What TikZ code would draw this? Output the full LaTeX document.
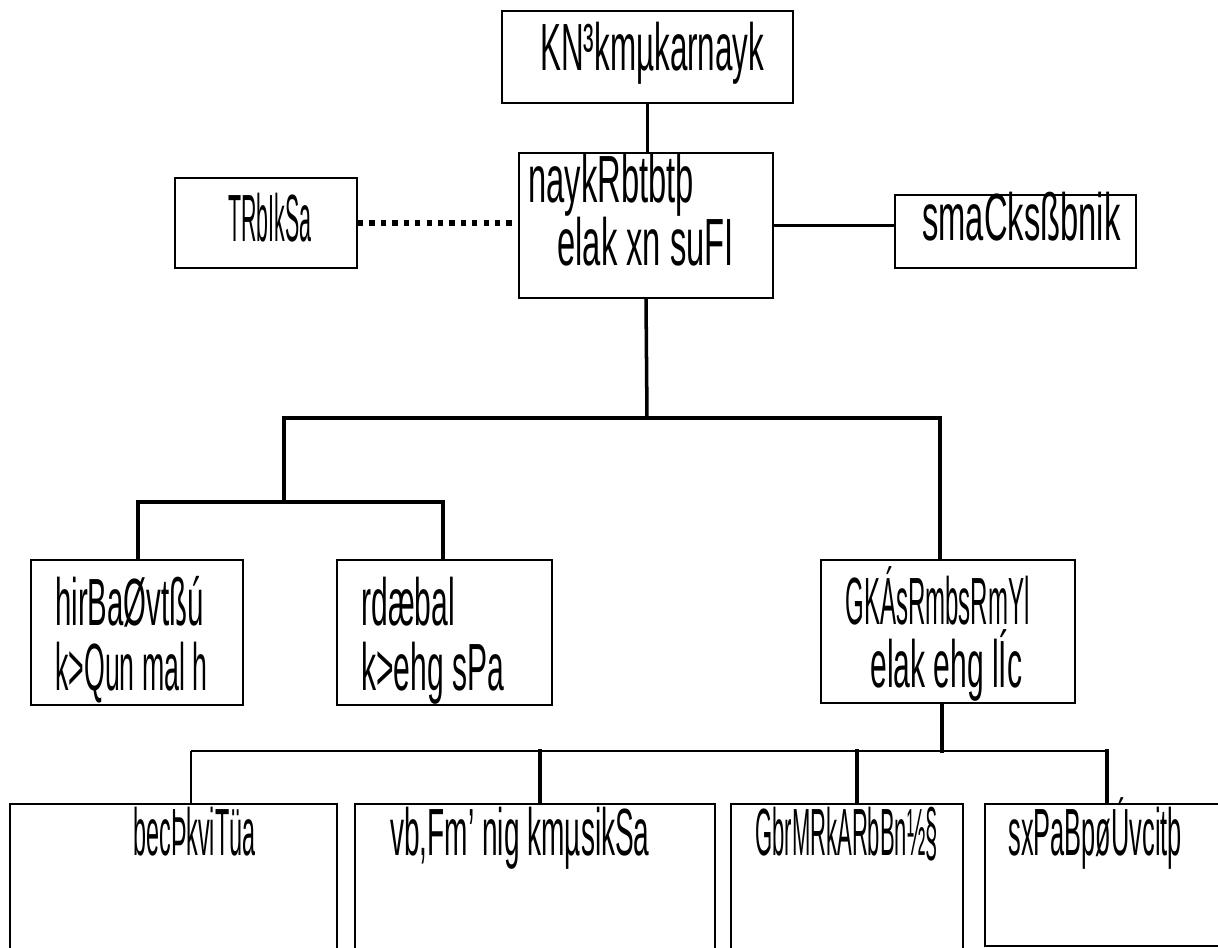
\documentclass[tikz,border=0pt]{standalone}
\usepackage{fontspec}
\setmainfont{Liberation Sans}
\newcommand\tfont[1]{\fontsize{38}{44}\selectfont\addfontfeature{FakeStretch=#1}}
\tikzset{every node/.style={rectangle,draw=none,inner sep=0pt}}
\tikzset{box/.style 2 args={draw,line width=1.1pt,minimum width=#1*0.2mm,minimum height=#2*0.2mm}}
\tikzset{t/.style={anchor=base west,font=\tfont{#1}},t/.default=0.47}
\tikzset{bar/.style={line width=2pt,line cap=rect}}
\tikzset{wire/.style={line width=1.1pt}}
\tikzset{dots/.style={line width=3pt,dash pattern=on 3pt off 3.5pt}}

\begin{document}
\begin{tikzpicture}[x=0.2mm,y=-0.2mm]
      \clip (0,0) rectangle (1218,948);
      % boxes
      \node[box={291}{92}] (head) at (647.5,57) {};
      \node[box={182}{90}] (adv) at (266,223) {};
      \node[box={254}{145}] (chief) at (646,225.5) {};
      \node[box={241}{73}] (member) at (1015.5,231.5) {};
      \node[box={212}{145}] (lib) at (137,632.5) {};
      \node[box={215}{145}] (fin) at (444.5,632.5) {};
      \node[box={254}{143}] (dir) at (948,631.5) {};
      \node[box={327}{170}] (b1) at (173.5,889) {};
      \node[box={360}{170}] (b2) at (535,889) {};
      \node[box={232}{170}] (b3) at (847,889) {};
      \node[box={245}{142}] (b4) at (1107.5,875) {};
      % texts
      \node[t] (headT) at (540,70) {KN³kmµkarnayk};
      \node[t=0.32] (advT) at (228,241) {TRbIkSa};
      \node[t=0.49] (chiefT1) at (528,202) {naykRbtbtþ};
      \node[t=0.49] (chiefT2) at (557,265) {elak xn suFI};
      \node[t=0.49] (memberT) at (922,240) {smaCksßbnik};
      \node[t=0.44] (libT1) at (55,625) {hirBaØvtßú};
      \node[t=0.4] (libT2) at (55,690) {k>Qun mal h};
      \node[t=0.45] (finT1) at (361,625) {rdæbal};
      \node[t=0.45] (finT2) at (361,690) {k>ehg sPa};
      \node[t=0.36] (dirT1) at (845,624) {GKÁsRmbsRmYl};
      \node[t=0.45] (dirT2) at (870,687) {elak ehg lÍc};
      \node[t=0.35] (b1T) at (133,855) {becÞkviTüa};
      \node[t=0.42] (b2T) at (390,855) {vb,Fm’ nig kmµsikSa};
      \node[t=0.33] (b3T) at (755,855) {GbrMRkARbBn½§};
      \node[t=0.38] (b4T) at (1008,855) {sxPaBpøÚvcitþ};
      % junctions
      \coordinate (c1) at (647,418);
      \coordinate (c1w) at (284,418);
      \coordinate (c1e) at (940,418);
      \coordinate (c2w) at (138,502);
      \coordinate (c2e) at (443,502);
      \coordinate (c3) at (942,751);
      \coordinate (c3w) at (191,751);
      \coordinate (c3e) at (1107,751);
      \coordinate (k2) at (540,751);
      \coordinate (k3) at (857,751);
        \draw[bar] (head.south) -- (head.south |- chief.north);
        \draw[dots] (adv.east) -- (adv.east -| chief.west);
        \draw[bar] (chief.east) -- (chief.east -| member.west);
        \draw[bar] (chief.south) -- (c1);
        \draw[bar] (c1w) -- (c1e);
        \draw[bar] (c1w) -- (c1w |- c2w);
        \draw[bar] (c2w) -- (c2e);
        \draw[bar] (c2w) -- (c2w |- lib.north);
        \draw[bar] (c2e) -- (c2e |- fin.north);
        \draw[bar] (c1e) -- (c1e |- dir.north);
        \draw[bar] (dir.south -| c3) -- (c3);
        \draw[wire] (c3w) -- (c3e);
        \draw[wire] (c3w) -- (c3w |- b1.north);
        \draw[bar] (k2) -- (k2 |- b2.north);
        \draw[bar] (k3) -- (k3 |- b3.north);
        \draw[bar] (c3e) -- (c3e |- b4.north);
    \end{tikzpicture}
\end{document}
